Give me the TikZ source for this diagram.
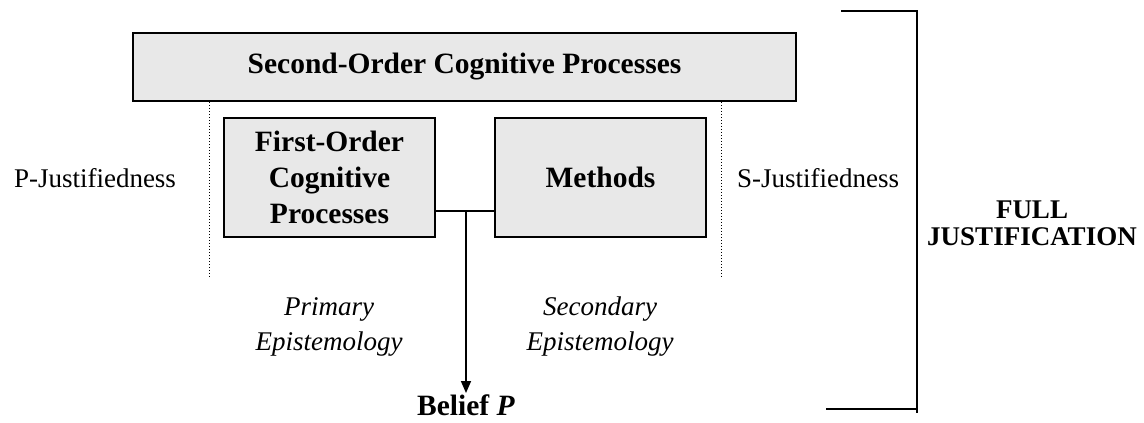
\documentclass[tikz,border=0pt]{standalone}
\usepackage{fontspec}
\setmainfont{Liberation Serif}
\usetikzlibrary{arrows.meta}
\definecolor{boxgray}{RGB}{232,232,232}

\begin{document}
\begin{tikzpicture}[x=1pt,y=-1pt,
  procbox/.style={draw,line width=1.8pt,fill=boxgray,inner sep=0pt,align=center,
    font=\bfseries\fontsize{29.5}{36}\selectfont},
  sidetext/.style={inner sep=0pt,font=\fontsize{27}{33}\selectfont},
  epitext/.style={inner sep=0pt,align=center,font=\itshape\fontsize{27}{35}\selectfont}]
\useasboundingbox (0,0) rectangle (1144,423);
% boxes
\node[procbox,minimum width=663pt,minimum height=68pt] (second) at (464.5,67) {Second-Order Cognitive Processes};
\node[procbox,minimum width=211pt,minimum height=119pt] (first) at (329.5,177.5) {First-Order\\Cognitive\\Processes};
\node[procbox,minimum width=211pt,minimum height=119pt] (methods) at (600.5,177.5) {Methods};
\node[inner sep=1pt,anchor=base,font=\bfseries\fontsize{29.5}{36}\selectfont] (belief) at (466,415) {Belief \textit{P}};
% labels
\node[sidetext] (pjust) at (95,178) {P-Justifiedness};
\node[sidetext] (sjust) at (818,178) {S-Justifiedness};
\node[epitext] (primary) at (329,327) {Primary\\Epistemology};
\node[epitext] (secondary) at (600,327) {Secondary\\Epistemology};
\node[inner sep=0pt,align=center,font=\bfseries\fontsize{27}{27}\selectfont] (full) at (1032,223) {FULL\\JUSTIFICATION};
% connectors
\coordinate (join) at (466,211);
\draw[line width=1.5pt] (first.east |- join) -- (methods.west |- join);
\draw[line width=1.5pt,-{Triangle[length=12pt,width=10pt]}] (join) -- (belief.north);
% dotted separators
\coordinate (dotl) at (209,278);
\coordinate (dotr) at (721,278);
\draw[dotted,line width=1pt] (second.south -| dotl) -- (dotl);
\draw[dotted,line width=1pt] (second.south -| dotr) -- (dotr);
% bracket
\coordinate (brtop) at (841,11);
\coordinate (brbot) at (826,409);
\coordinate (brside) at (917,11);
\draw[line width=1.5pt] (brtop) -- (brside) -- (917,413);
\draw[line width=1.5pt] (brbot) -- (917,409);
\end{tikzpicture}
\end{document}
